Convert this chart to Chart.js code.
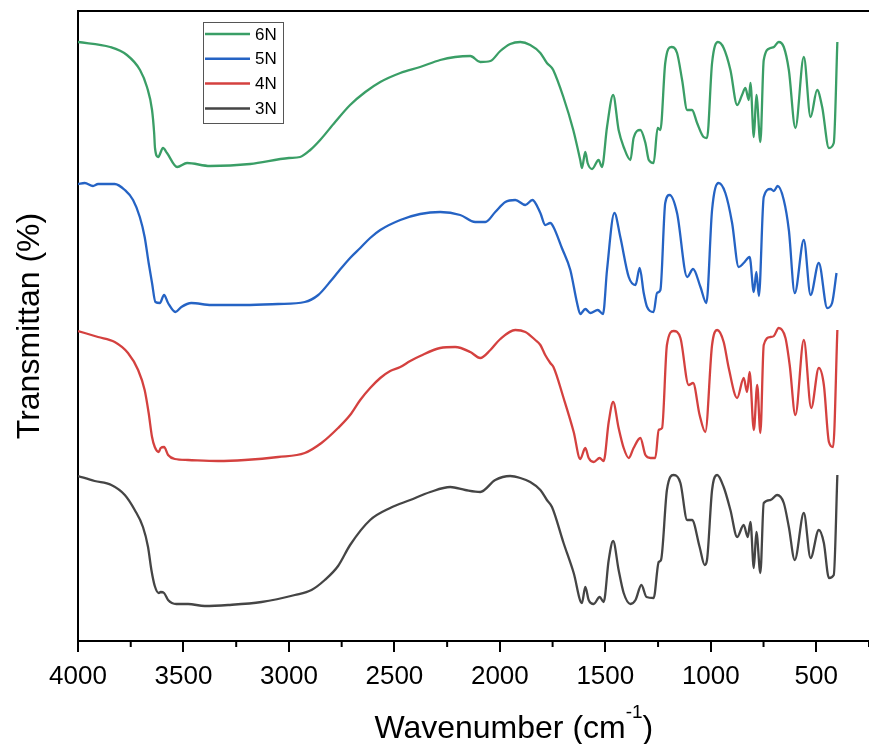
<!DOCTYPE html>
<html>
<head>
<meta charset="utf-8">
<script src="https://cdn.jsdelivr.net/npm/chart.js@4/dist/chart.umd.min.js"></script>
<style>
  html, body { margin: 0; padding: 0; background: #fff; }
  #wrap { width: 869px; height: 744px; }
</style>
</head>
<body>
<div id="wrap"><canvas id="ftir" width="869" height="744"></canvas></div>
<script>
// wavenumber (cm-1) and transmittance (arbitrary, offset-stacked) per sample
const wn6N = [4000, 3848, 3768, 3706, 3673, 3649, 3639, 3635, 3620, 3597, 3578, 3530, 3483, 3374, 3184, 3000, 2947, 2899, 2852, 2781, 2710, 2638, 2567, 2472, 2378, 2283, 2212, 2140, 2093, 2045, 1998, 1951, 1903, 1856, 1808, 1777, 1753, 1747, 1699, 1652, 1619, 1611, 1595, 1584, 1563, 1532, 1516, 1492, 1463, 1437, 1413, 1381, 1366, 1334, 1310, 1294, 1271, 1252, 1239, 1216, 1187, 1160, 1136, 1112, 1089, 1065, 1034, 1018, 994, 966, 939, 907, 875, 852, 836, 820, 812, 796, 784, 765, 749, 717, 701, 678, 654, 630, 599, 559, 527, 496, 472, 440, 417, 400];
const t6N = [599, 594, 586, 571, 554, 531, 508, 493, 484, 493, 488, 474, 478, 475, 477, 483, 484, 491, 501, 519, 536, 549, 559, 568, 574, 581, 584, 585, 579, 580, 590, 597, 599, 596, 588, 578, 573, 571, 544, 511, 481, 473, 489, 478, 472, 481, 474, 514, 546, 511, 494, 481, 503, 511, 498, 481, 478, 513, 511, 578, 594, 588, 561, 531, 531, 518, 504, 503, 578, 599, 593, 571, 536, 546, 553, 541, 558, 504, 546, 499, 581, 593, 594, 599, 594, 571, 513, 584, 524, 551, 534, 493, 498, 599];

const wn5N = [4000, 3968, 3929, 3905, 3826, 3778, 3739, 3707, 3684, 3665, 3649, 3633, 3612, 3592, 3573, 3538, 3510, 3463, 3368, 3209, 3051, 2925, 2861, 2798, 2767, 2710, 2662, 2615, 2567, 2472, 2378, 2283, 2188, 2117, 2069, 2022, 1974, 1927, 1879, 1846, 1808, 1785, 1761, 1746, 1706, 1666, 1634, 1619, 1595, 1571, 1536, 1511, 1492, 1457, 1429, 1389, 1357, 1337, 1318, 1302, 1271, 1255, 1239, 1216, 1195, 1160, 1112, 1084, 1049, 1021, 994, 963, 931, 899, 868, 844, 816, 796, 784, 772, 749, 717, 701, 683, 654, 630, 602, 559, 527, 488, 448, 425, 404];
const t5N = [457, 458, 455, 457, 457, 451, 441, 424, 404, 378, 358, 339, 338, 346, 338, 329, 334, 338, 336, 336, 337, 339, 346, 361, 369, 383, 393, 403, 411, 421, 427, 429, 426, 419, 419, 429, 439, 441, 436, 441, 428, 416, 418, 414, 393, 371, 338, 327, 332, 328, 331, 327, 371, 428, 404, 364, 356, 373, 348, 334, 329, 348, 351, 438, 446, 428, 364, 372, 354, 338, 431, 458, 448, 418, 374, 378, 384, 349, 369, 345, 444, 452, 450, 455, 441, 411, 348, 401, 346, 378, 333, 338, 368];

const wn4N = [4000, 3905, 3826, 3763, 3715, 3684, 3665, 3649, 3636, 3617, 3608, 3592, 3573, 3541, 3478, 3336, 3209, 3051, 2925, 2846, 2767, 2710, 2662, 2615, 2567, 2520, 2472, 2425, 2378, 2283, 2212, 2140, 2093, 2045, 1998, 1927, 1879, 1832, 1808, 1785, 1761, 1746, 1698, 1650, 1619, 1595, 1579, 1555, 1527, 1508, 1484, 1463, 1437, 1413, 1389, 1366, 1334, 1310, 1286, 1263, 1247, 1231, 1208, 1176, 1144, 1105, 1084, 1053, 1026, 994, 970, 939, 915, 875, 844, 828, 816, 796, 780, 765, 749, 717, 701, 678, 646, 626, 599, 559, 524, 488, 464, 440, 420, 400];
const t4N = [310, 304, 299, 288, 271, 251, 228, 204, 194, 189, 193, 194, 186, 182, 181, 180, 181, 184, 188, 198, 213, 226, 241, 253, 263, 270, 274, 280, 285, 293, 294, 289, 283, 291, 302, 311, 309, 301, 296, 286, 278, 274, 243, 209, 182, 193, 183, 179, 183, 180, 219, 239, 213, 193, 183, 193, 203, 186, 183, 183, 211, 213, 296, 310, 303, 256, 258, 226, 209, 296, 311, 299, 273, 243, 263, 249, 269, 211, 256, 208, 296, 304, 305, 313, 303, 276, 226, 301, 233, 273, 256, 199, 194, 311];

const wn3N = [4000, 3921, 3842, 3778, 3731, 3692, 3668, 3652, 3636, 3617, 3608, 3592, 3573, 3534, 3478, 3399, 3288, 3130, 2972, 2893, 2830, 2767, 2710, 2615, 2520, 2425, 2330, 2235, 2164, 2093, 2022, 1951, 1903, 1856, 1808, 1777, 1753, 1698, 1650, 1611, 1595, 1579, 1555, 1527, 1508, 1484, 1463, 1437, 1413, 1381, 1357, 1329, 1305, 1271, 1247, 1236, 1208, 1176, 1144, 1112, 1089, 1053, 1029, 1018, 994, 970, 939, 907, 875, 844, 825, 812, 796, 784, 765, 749, 717, 686, 654, 630, 602, 559, 527, 488, 464, 440, 417, 400];
const t3N = [165, 160, 156, 146, 131, 114, 94, 71, 55, 48, 49, 48, 41, 37, 37, 35, 36, 39, 46, 51, 61, 75, 96, 121, 133, 141, 149, 154, 151, 149, 161, 165, 163, 159, 151, 141, 134, 98, 68, 38, 54, 41, 37, 44, 39, 81, 100, 71, 48, 37, 41, 56, 44, 43, 79, 81, 151, 166, 158, 121, 121, 94, 76, 81, 151, 166, 154, 131, 104, 116, 104, 119, 73, 109, 68, 138, 141, 146, 138, 114, 81, 128, 83, 111, 98, 63, 66, 166];

const seriesLabels = ["6N", "5N", "4N", "3N"];
const majorTicks = [4000, 3500, 3000, 2500, 2000, 1500, 1000, 500];
const minorTicks = [3750, 3250, 2750, 2250, 1750, 1250, 750, 250];

const colors = ["#3a9e66", "#2563c4", "#d4413f", "#454545"];
const FONT = "'Liberation Sans', Arial, sans-serif";

function toPoints(xs, ys) {
  return xs.map((x, i) => ({ x: x, y: ys[i] }));
}

const series = [toPoints(wn6N, t6N), toPoints(wn5N, t5N), toPoints(wn4N, t4N), toPoints(wn3N, t3N)];

// top frame line + minor ticks + x title with superscript + legend box
const extras = {
  id: "extras",
  afterDraw(chart) {
    const { ctx, chartArea: a, scales } = chart;
    ctx.save();
    ctx.strokeStyle = "#000";
    ctx.lineWidth = 2;
    ctx.beginPath();
    ctx.moveTo(a.left - 1, a.top);
    ctx.lineTo(a.right, a.top);
    ctx.stroke();

    minorTicks.forEach(v => {
      const px = scales.x.getPixelForValue(v);
      ctx.beginPath();
      ctx.moveTo(px, a.bottom);
      ctx.lineTo(px, a.bottom + 6);
      ctx.stroke();
    });

    // x axis title
    const main = "Wavenumber (cm", sup = "-1", close = ")";
    ctx.fillStyle = "#000";
    ctx.textBaseline = "alphabetic";
    ctx.font = "32px " + FONT;
    const w1 = ctx.measureText(main).width;
    const w3 = ctx.measureText(close).width;
    ctx.font = "19px " + FONT;
    const w2 = ctx.measureText(sup).width;
    const total = w1 + w2 + w3;
    let tx = a.left + a.width * 0.551 - total / 2;
    const ty = a.bottom + 97;
    ctx.font = "32px " + FONT;
    ctx.fillText(main, tx, ty);
    ctx.font = "19px " + FONT;
    ctx.fillText(sup, tx + w1, ty - 20);
    ctx.font = "32px " + FONT;
    ctx.fillText(close, tx + w1 + w2, ty);

    // legend
    const lx = a.left + 125, ly = a.top + 11;
    ctx.lineWidth = 1;
    ctx.strokeStyle = "#555";
    ctx.strokeRect(lx + 0.5, ly + 0.5, 80, 101);
    ctx.font = "17px " + FONT;
    ctx.textBaseline = "middle";
    chart.data.datasets.forEach((ds, i) => {
      const yy = ly + 12 + i * 24.8;
      ctx.strokeStyle = ds.borderColor;
      ctx.lineWidth = 2.5;
      ctx.beginPath();
      ctx.moveTo(lx + 2, yy);
      ctx.lineTo(lx + 47, yy);
      ctx.stroke();
      ctx.fillStyle = "#000";
      ctx.fillText(ds.label, lx + 52, yy + 1);
    });
    ctx.restore();
  }
};

new Chart(document.getElementById("ftir"), {
  type: "line",
  data: {
    datasets: series.map((pts, i) => ({
      label: seriesLabels[i],
      data: pts,
      borderColor: colors[i],
      borderWidth: 2.3,
      pointRadius: 0,
      fill: false,
      cubicInterpolationMode: "monotone"
    }))
  },
  options: {
    responsive: false,
    devicePixelRatio: 1,
    animation: false,
    layout: { padding: { top: 11, right: 0, bottom: 0, left: 0 } },
    plugins: { legend: { display: false }, tooltip: { enabled: false } },
    scales: {
      x: {
        type: "linear",
        reverse: true,
        min: 250,
        max: 4000,
        afterBuildTicks: s => { s.ticks = majorTicks.map(v => ({ value: v })); },
        afterFit: s => { s.height = 103; },
        ticks: {
          autoSkip: false,
          maxRotation: 0,
          padding: 9,
          color: "#000",
          font: { family: FONT, size: 26 },
          callback: v => String(v)
        },
        grid: { drawOnChartArea: false, drawTicks: true, tickLength: 11, color: "#000", lineWidth: 2 },
        border: { color: "#000", width: 2 }
      },
      y: {
        min: 0,
        max: 630,
        afterFit: s => { s.width = 78; },
        ticks: { display: false },
        grid: { display: false },
        border: { color: "#000", width: 2 },
        title: {
          display: true,
          text: "Transmittan (%)",
          color: "#000",
          font: { family: FONT, size: 32 },
          padding: { top: 11, bottom: 0 }
        }
      }
    }
  },
  plugins: [extras]
});
</script>
</body>
</html>
